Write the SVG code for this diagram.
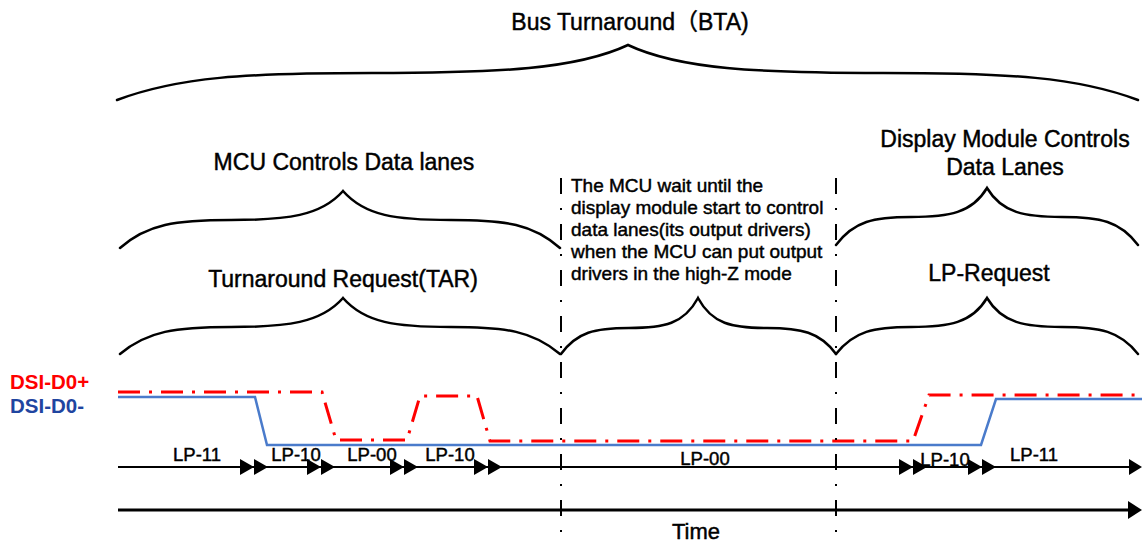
<svg xmlns="http://www.w3.org/2000/svg" width="1142" height="544" viewBox="0 0 1142 544">
<style>
  .t{font-family:"Liberation Sans",Arial,sans-serif;fill:#000;stroke:#000;stroke-width:0.45}
  .big{font-size:23px}
  .mid{font-size:19px}
  .lp{font-size:18.5px}
  .brace{fill:none;stroke:#000;stroke-width:2.5;stroke-linecap:round;stroke-linejoin:miter}
  .vdash{stroke:#000;stroke-width:2;stroke-dasharray:16 14 2 14;fill:none}
  .red{fill:none;stroke:#FF0000;stroke-width:3;stroke-dasharray:22 9 3 9}
  .blue{fill:none;stroke:#4A7BCB;stroke-width:2.5}
  .ah{fill:#000}
</style>
<rect width="1142" height="544" fill="#fff"/>

<g id="bta">
  <path class="brace" stroke-width="3" d="M117,100 C178,77 245,73 372,73 C500,73 577,69 628,45 C679,69 756,73 883,73 C1010,73 1077,77 1138,100"/>
  <text class="t big" x="630" y="30" text-anchor="middle">Bus Turnaround<tspan font-family="'Noto Sans CJK SC',sans-serif">（</tspan>BTA)</text>
</g>

<g id="mcu-controls">
  <path class="brace" d="M120,248 C147,224 176,220 231,220 C287,220 321,216 343,191 C365,216 396,220 451,220 C506,220 533,224 560,248"/>
  <text class="t big" x="344" y="170" text-anchor="middle">MCU Controls Data lanes</text>
</g>

<g id="tar">
  <path class="brace" d="M120,354 C147,331 176,327 231,327 C287,327 321,323 343,298 C365,323 396,327 451,327 C506,327 533,331 560,354"/>
  <text class="t big" x="343" y="287" text-anchor="middle">Turnaround Request(TAR)</text>
</g>

<g id="wait">
  <path class="brace" d="M561,354 C577,332 595,328 629,328 C664,328 684,324 698,298 C712,324 732,328 767,328 C801,328 820,332 836,354"/>
  <text class="t mid" x="571">
    <tspan x="571" y="192">The MCU wait until the</tspan>
    <tspan x="571" y="214">display module start to control</tspan>
    <tspan x="571" y="236">data lanes(its output drivers)</tspan>
    <tspan x="571" y="258">when the MCU can put output</tspan>
    <tspan x="571" y="280">drivers in the high-Z mode</tspan>
  </text>
</g>

<g id="display-controls">
  <path class="brace" d="M836,245 C854,221 874,217 911,217 C949,217 972,213 987,188 C1002,213 1025,217 1062,217 C1100,217 1120,221 1138,245"/>
  <text class="t big" x="1005" y="147" text-anchor="middle">Display Module Controls</text>
  <text class="t big" x="1005" y="175" text-anchor="middle">Data Lanes</text>
</g>

<g id="lp-request">
  <path class="brace" d="M836,354 C854,331 874,327 911,327 C949,327 972,323 987,298 C1002,323 1025,327 1062,327 C1100,327 1120,331 1138,354"/>
  <text class="t big" x="989" y="281" text-anchor="middle">LP-Request</text>
</g>

<g id="signals">
  <text x="10" y="389" font-family="'Liberation Sans',Arial,sans-serif" font-size="20.5" font-weight="bold" fill="#FF0000">DSI-D0+</text>
  <text x="10" y="413" font-family="'Liberation Sans',Arial,sans-serif" font-size="20.5" font-weight="bold" fill="#1F45A0">DSI-D0-</text>
  <path class="blue" d="M118,397 L255,397 L267,445 L981,445 L996,399 L1142,399"/>
  <path class="red" d="M118,392 L322,392 L336,440 L407,440 L420,396 L477,396 L490,441 L913,441 L929,395 L1142,395"/>
</g>

<g id="connectors">
  <line class="vdash" x1="561" y1="178" x2="561" y2="544"/>
  <line class="vdash" x1="836" y1="178" x2="836" y2="544"/>
  <line x1="118" y1="467" x2="1132" y2="467" stroke="#000" stroke-width="2"/>
  <g class="ah">
    <polygon points="240,459 254,467 240,475"/><polygon points="254,459 268,467 254,475"/>
    <polygon points="307,459 321,467 307,475"/><polygon points="321,459 335,467 321,475"/>
    <polygon points="390,459 404,467 390,475"/><polygon points="404,459 418,467 404,475"/>
    <polygon points="474,459 488,467 474,475"/><polygon points="488,459 502,467 488,475"/>
    <polygon points="899,459 913,467 899,475"/><polygon points="913,459 927,467 913,475"/>
    <polygon points="968,459 982,467 968,475"/><polygon points="982,459 996,467 982,475"/>
    <polygon points="1129,459 1142,467 1129,475"/>
  </g>
  <line x1="118" y1="510" x2="1130" y2="510" stroke="#000" stroke-width="3"/>
  <polygon class="ah" points="1128,501 1142,510 1128,519"/>
</g>

<g id="lp-labels">
  <text class="t lp" x="197" y="461" text-anchor="middle">LP-11</text>
  <text class="t lp" x="296" y="461" text-anchor="middle">LP-10</text>
  <text class="t lp" x="372" y="461" text-anchor="middle">LP-00</text>
  <text class="t lp" x="450" y="461" text-anchor="middle">LP-10</text>
  <text class="t lp" x="705" y="465" text-anchor="middle">LP-00</text>
  <text class="t lp" x="945" y="466" text-anchor="middle">LP-10</text>
  <text class="t lp" x="1034" y="461" text-anchor="middle">LP-11</text>
</g>

<g id="time">
  <text class="t" font-size="22" x="696" y="539" text-anchor="middle">Time</text>
</g>
</svg>
